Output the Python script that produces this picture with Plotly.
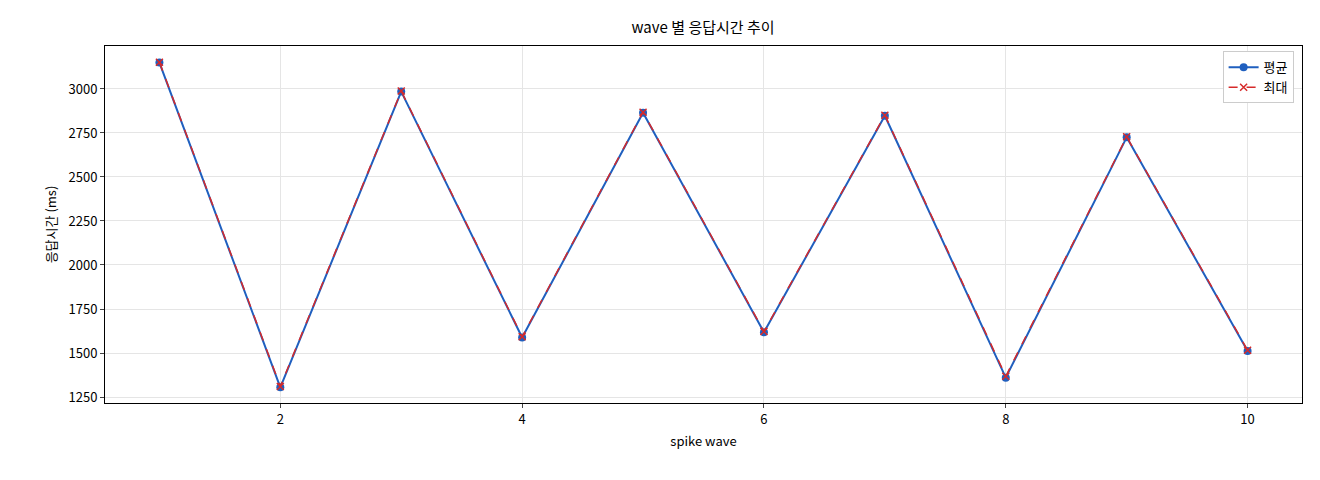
import plotly.graph_objects as go

waves = [1, 2, 3, 4, 5, 6, 7, 8, 9, 10]
avg_ms = [3150, 1305, 2985, 1588, 2865, 1618, 2848, 1360, 2725, 1512]
max_ms = [3152, 1310, 2988, 1592, 2868, 1622, 2851, 1368, 2728, 1516]

FONT = "Noto Sans CJK KR"

fig = go.Figure()
fig.add_trace(go.Scatter(
    x=waves, y=avg_ms, name="평균", mode="lines+markers",
    line=dict(color="#1f5fbf", width=2),
    marker=dict(symbol="circle", size=8, color="#1f5fbf"),
))
fig.add_trace(go.Scatter(
    x=waves, y=max_ms, name="최대", mode="lines+markers",
    line=dict(color="#d62a2a", width=1.5, dash="dash"),
    marker=dict(symbol="x-thin", size=7, line=dict(color="#d62a2a", width=1.5)),
))

axis = dict(showline=True, mirror=True, linecolor="black", linewidth=1,
            gridcolor="#e5e5e5", ticks="outside", ticklen=4, zeroline=False,
            tickfont=dict(size=13, color="black"))
fig.update_xaxes(axis, range=[0.55, 10.45], dtick=2, tick0=0,
                 title=dict(text="spike wave", font=dict(size=13), standoff=10))
fig.update_yaxes(axis, range=[1216, 3244], dtick=250, tick0=0,
                 title=dict(text="응답시간 (ms)", font=dict(size=13), standoff=8))

fig.update_layout(
    width=1304, height=464,
    paper_bgcolor="white", plot_bgcolor="white",
    font=dict(family=FONT, color="black"),
    title=dict(text="wave 별 응답시간 추이", x=0.533, xanchor="center", y=0.957,
               yanchor="middle", font=dict(size=15)),
    margin=dict(l=97, r=10, t=38, b=69),
    legend=dict(x=0.993, y=0.985, xanchor="right", yanchor="top",
                bordercolor="#cccccc", borderwidth=1, bgcolor="white",
                font=dict(size=13)),
)

fig.write_html("out.html")
